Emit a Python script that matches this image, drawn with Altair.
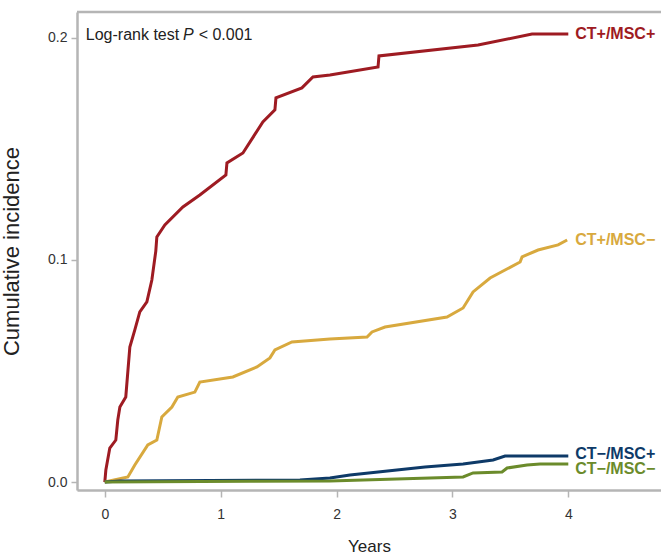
import altair as alt
import pandas as pd

# ---- data ----
red_t = [0, 0.009, 0.043, 0.095, 0.112, 0.130, 0.181, 0.216, 0.259, 0.302, 0.363, 0.406, 0.440, 0.449,
         0.518, 0.674, 0.820, 1.045, 1.054, 1.192, 1.364, 1.468, 1.477, 1.701, 1.796, 1.943,
         2.358, 2.366, 3.221, 3.687, 4.0]
red_v = [0, 0.0054, 0.0153, 0.0189, 0.0279, 0.0338, 0.0383, 0.0608, 0.0685, 0.0766, 0.0811, 0.0910, 0.1040, 0.1104,
         0.1158, 0.1239, 0.1293, 0.1383, 0.1437, 0.1482, 0.1622, 0.1676, 0.1730, 0.1775, 0.1824, 0.1833,
         0.1869, 0.1919, 0.1968, 0.2018, 0.2018]

gold_t = [0, 0.199, 0.259, 0.371, 0.449, 0.492, 0.579, 0.630, 0.777, 0.820, 1.105, 1.313, 1.425, 1.468,
          1.615, 1.943, 2.263, 2.306, 2.418, 2.953, 3.092, 3.178, 3.325, 3.584, 3.601, 3.739, 3.912, 3.990]
gold_v = [0, 0.0023, 0.0077, 0.0167, 0.0189, 0.0293, 0.0338, 0.0383, 0.0405, 0.0450, 0.0473, 0.0518, 0.0559, 0.0595,
          0.0631, 0.0644, 0.0653, 0.0676, 0.0698, 0.0743, 0.0784, 0.0856, 0.0919, 0.0991, 0.1014, 0.1045, 0.1068, 0.1090]

navy_t = [0, 0.13, 1.684, 1.943, 2.116, 2.763, 3.092, 3.351, 3.454, 4.0]
navy_v = [0, 0.0005, 0.0009, 0.0018, 0.0032, 0.0068, 0.0081, 0.0099, 0.0117, 0.0117]

green_t = [0, 1.25, 1.943, 3.092, 3.178, 3.428, 3.472, 3.644, 3.757, 4.0]
green_v = [0, 0.0003, 0.0005, 0.0023, 0.0041, 0.0045, 0.0063, 0.0077, 0.0081, 0.0081]

groups = ["CT+/MSC+", "CT+/MSC\u2212", "CT\u2212/MSC+", "CT\u2212/MSC\u2212"]
colors = ["#9e1b22", "#d8a93e", "#0e3a68", "#6b8b2b"]
label_y = [0.2018, 0.1090, 0.0127, 0.0058]
label_x = [4.06, 4.06, 4.06, 4.06]

x_ticks = [0, 1, 2, 3, 4]
y_ticks = [0, 0.1, 0.2]

rows = []
for g, ts, vs in zip(groups, [red_t, gold_t, navy_t, green_t], [red_v, gold_v, navy_v, green_v]):
    for t, v in zip(ts, vs):
        rows.append({"group": g, "t": t, "v": v})
df = pd.DataFrame(rows)
lab = pd.DataFrame({"group": groups, "t": label_x, "v": label_y})

FONT = "Liberation Sans, Arial, sans-serif"
AX = "#b5b5b5"

xs = alt.Scale(domain=[-0.24, 4.8], nice=False, zero=False)
ys = alt.Scale(domain=[-0.0036, 0.2117], nice=False, zero=False)
cs = alt.Scale(domain=groups, range=colors)

lines = alt.Chart(df).mark_line(strokeWidth=3, interpolate="linear").encode(
    x=alt.X("t:Q", scale=xs, axis=alt.Axis(
        values=x_ticks, title="Years", format="d", grid=False,
        domainColor=AX, domainWidth=2.5, tickColor=AX, tickWidth=1.5, tickSize=7,
        labelFont=FONT, labelFontSize=14, labelColor="#333", labelPadding=10,
        titleFont=FONT, titleFontSize=17, titleFontWeight="normal", titleColor="#222",
        titlePadding=17)),
    y=alt.Y("v:Q", scale=ys, axis=alt.Axis(
        values=y_ticks, title="Cumulative incidence", format=".1f", grid=False,
        domainColor=AX, domainWidth=2.5, tickColor=AX, tickWidth=1.5, tickSize=6,
        labelFont=FONT, labelFontSize=14, labelColor="#333", labelPadding=4,
        titleFont=FONT, titleFontSize=22, titleFontWeight="normal", titleColor="#222",
        titlePadding=24)),
    color=alt.Color("group:N", scale=cs, legend=None),
    detail="group:N",
    order="t:Q",
)

labels = alt.Chart(lab).mark_text(
    align="left", baseline="middle", font=FONT, fontSize=16, fontWeight="bold"
).encode(
    x=alt.X("t:Q", scale=xs),
    y=alt.Y("v:Q", scale=ys),
    text="group:N",
    color=alt.Color("group:N", scale=cs, legend=None),
)

top_rule = alt.Chart(pd.DataFrame({"a": [0]})).mark_rule(color=AX, strokeWidth=2.5).encode(
    x=alt.value(0), x2=alt.value(584), y=alt.value(0)
)

ann_font = dict(font=FONT, fontSize=16, baseline="alphabetic", align="left", color="#222")
ann1 = alt.Chart().mark_text(text="Log-rank test", **ann_font).encode(
    x=alt.datum(-0.164, scale=xs), y=alt.datum(0.1993, scale=ys))
ann2 = alt.Chart().mark_text(text="P", fontStyle="italic", **ann_font).encode(
    x=alt.datum(0.674, scale=xs), y=alt.datum(0.1993, scale=ys))
ann3 = alt.Chart().mark_text(text="< 0.001", **ann_font).encode(
    x=alt.datum(0.810, scale=xs), y=alt.datum(0.1993, scale=ys))

chart = alt.layer(lines, labels, top_rule, ann1, ann2, ann3).properties(
    width=584, height=478,
    autosize=alt.AutoSizeParams(type="none"),
    padding={"left": 77, "top": 12, "right": 0, "bottom": 67},
).configure_view(stroke=None).configure(background="white")

chart.save("out.html", embed_options={"renderer": "svg", "actions": False})
